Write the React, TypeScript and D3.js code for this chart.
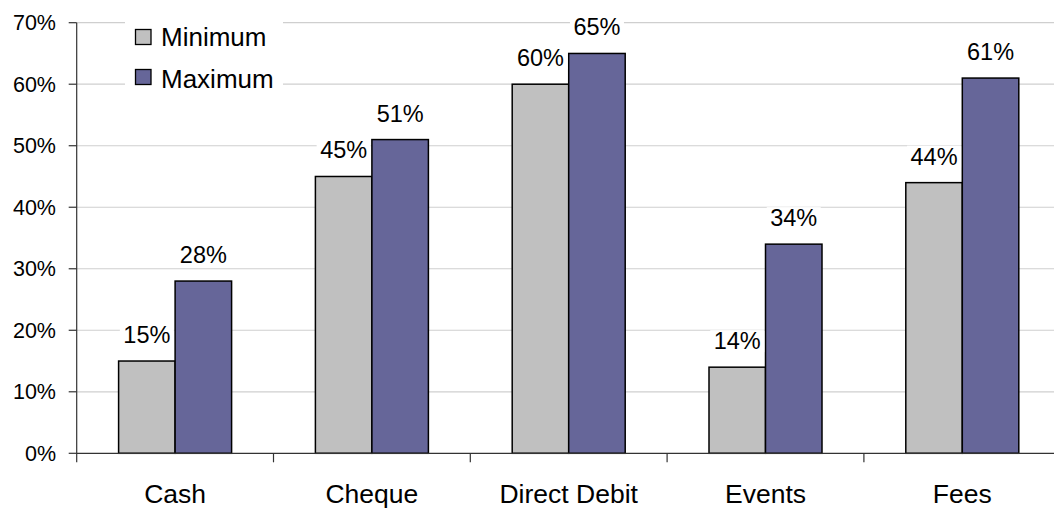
import React from "react";
import * as d3 from "d3";

const categories = ["Cash", "Cheque", "Direct Debit", "Events", "Fees"];
const minimumValues = [0.15, 0.45, 0.6, 0.14, 0.44];
const maximumValues = [0.28, 0.51, 0.65, 0.34, 0.61];
const seriesNames = ["Minimum", "Maximum"];
const seriesColors = ["#C0C0C0", "#666699"];
const yTicks = [0, 0.1, 0.2, 0.3, 0.4, 0.5, 0.6, 0.7];

const W = 1054;
const H = 508;
const FONT = "Arial, 'Liberation Sans', sans-serif";

export default function App() {
  const x0 = 76.7;
  const catW = 196.8;
  const x = d3
    .scaleBand<string>()
    .domain(categories)
    .range([x0, x0 + catW * categories.length])
    .paddingInner(0)
    .paddingOuter(0);
  const y = d3.scaleLinear().domain([0, 0.7]).range([453.3, 22.7]);
  const barW = 56.5;
  const series = [minimumValues, maximumValues];
  const fmt = d3.format(".0%");

  return (
    <svg
      width={W}
      height={H}
      style={{ position: "absolute", left: 0, top: 0, display: "block", background: "#fff" }}
      fontFamily={FONT}
    >
      {/* gridlines */}
      {yTicks.slice(1).map((t) => (
        <line key={"g" + t} x1={x0} x2={W} y1={y(t)} y2={y(t)} stroke="#cfcfcf" strokeWidth={1.2} />
      ))}
      {/* bars */}
      {categories.map((c, i) => {
        const cx = (x(c) as number) + x.bandwidth() / 2;
        return series.map((vals, s) => {
          const bx = cx - barW + s * barW;
          return (
            <rect
              key={c + s}
              x={bx}
              y={y(vals[i])}
              width={barW}
              height={y(0) - y(vals[i])}
              fill={seriesColors[s]}
              stroke="#000"
              strokeWidth={1.5}
            />
          );
        });
      })}
      {/* axes */}
      <line x1={x0} x2={W} y1={y(0)} y2={y(0)} stroke="#333" strokeWidth={1.2} />
      <line x1={x0} x2={x0} y1={y(0.7)} y2={y(0) + 9} stroke="#333" strokeWidth={1.2} />
      {categories.map((c, i) => (
        <line
          key={"xt" + c}
          x1={x0 + catW * (i + 1)}
          x2={x0 + catW * (i + 1)}
          y1={y(0)}
          y2={y(0) + 9}
          stroke="#333"
          strokeWidth={1.2}
        />
      ))}
      {yTicks.map((t) => (
        <g key={"yt" + t}>
          <line x1={x0 - 8} x2={x0} y1={y(t)} y2={y(t)} stroke="#333" strokeWidth={1.2} />
          <text x={56} y={y(t) + 7.5} textAnchor="end" fontSize={21.5} fill="#000">
            {fmt(t)}
          </text>
        </g>
      ))}
      {categories.map((c) => (
        <text
          key={"xl" + c}
          x={(x(c) as number) + x.bandwidth() / 2}
          y={503}
          textAnchor="middle"
          fontSize={26.5}
          fill="#000"
        >
          {c}
        </text>
      ))}
      {/* data labels */}
      {categories.map((c, i) => {
        const cx = (x(c) as number) + x.bandwidth() / 2;
        return series.map((vals, s) => {
          const lx = cx - barW / 2 + s * barW;
          const ly = y(vals[i]) - 18;
          return (
            <g key={"dl" + c + s}>
              <rect x={lx - 27} y={ly - 19} width={54} height={22} fill="#fff" />
              <text x={lx} y={ly} textAnchor="middle" fontSize={23.5} fill="#000">
                {fmt(vals[i])}
              </text>
            </g>
          );
        });
      })}
      {/* legend */}
      <rect x={125} y={14} width={158} height={80} fill="#fff" />
      {seriesNames.map((n, s) => (
        <g key={"lg" + n}>
          <rect
            x={135.5}
            y={29.5 + s * 40}
            width={15.5}
            height={15}
            fill={seriesColors[s]}
            stroke="#000"
            strokeWidth={1.3}
          />
          <text x={161} y={46 + s * 42.3} fontSize={26} fill="#000">
            {n}
          </text>
        </g>
      ))}
    </svg>
  );
}
